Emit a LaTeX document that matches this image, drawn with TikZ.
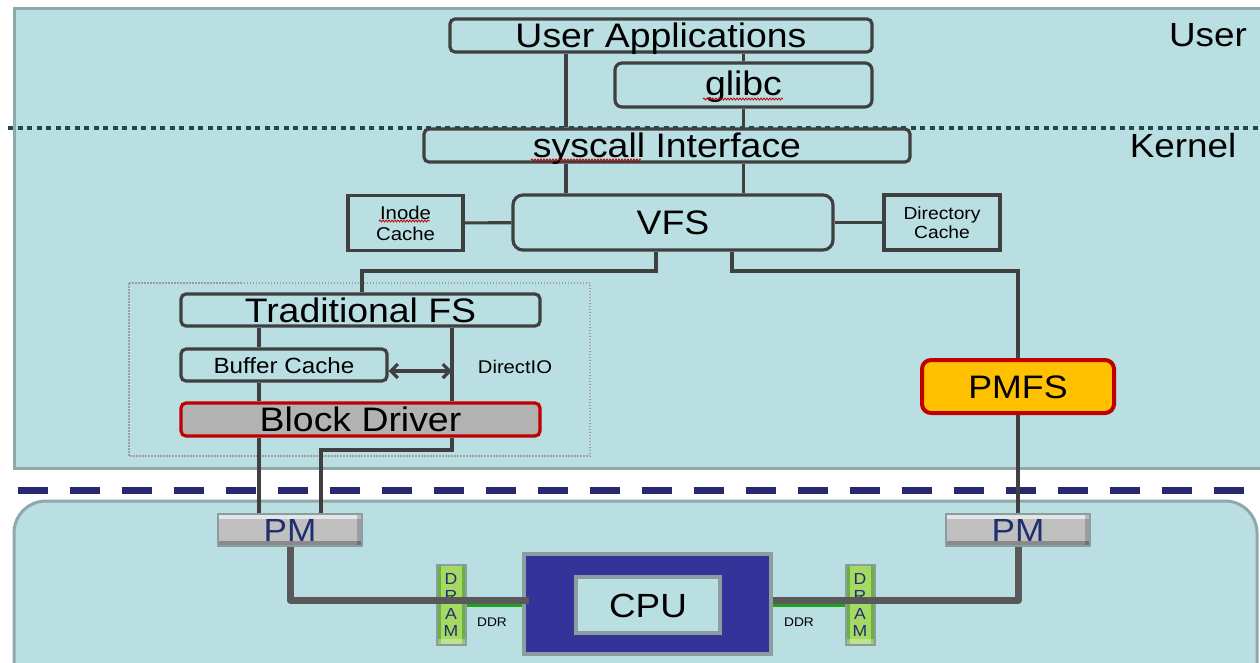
\documentclass[tikz,border=0pt]{standalone}
\usepackage{fontspec}
\setmainfont{Liberation Sans}[FakeStretch=1.1]
\usetikzlibrary{arrows.meta,decorations.pathmorphing}

\definecolor{panel}{RGB}{185,223,227}
\definecolor{panelrim}{RGB}{143,168,170}
\definecolor{boxline}{RGB}{64,64,64}
\definecolor{kerneldots}{RGB}{31,73,77}
\definecolor{hwdash}{RGB}{40,40,112}
\definecolor{alertred}{RGB}{192,0,0}
\definecolor{pmfsgold}{RGB}{255,192,0}
\definecolor{blockgray}{RGB}{178,178,178}
\definecolor{cpublue}{RGB}{51,51,153}
\definecolor{cpurim}{RGB}{138,158,159}
\definecolor{ddrgreen}{RGB}{34,160,34}
\definecolor{dramgreen}{RGB}{166,216,100}
\definecolor{pmfill}{RGB}{192,192,192}
\definecolor{pmtext}{RGB}{31,47,111}
\definecolor{busgray}{RGB}{89,89,89}

\newcommand{\setfs}[1]{\fontsize{#1}{#1}\selectfont}

\begin{document}
\begin{tikzpicture}[x=1pt,y=-1pt,
  box/.style={draw=boxline, line width=3.2pt, fill=panel, rounded corners=5pt,
    inner sep=0pt, font=\setfs{34}, text height=24pt, text depth=0pt},
  sqbox/.style={draw=boxline, line width=3.2pt, fill=panel, inner sep=0pt,
    align=center},
  alertbox/.style={box, draw=alertred},
  conn/.style={draw=boxline, line width=3.2pt},
  bus/.style={draw=busgray, line width=7pt, line join=round},
  ddr/.style={draw=ddrgreen, line width=3pt},
  pmbox/.style={draw=cpurim, line width=2pt, fill=pmfill, minimum width=144pt,
    minimum height=32pt, inner sep=0pt, text=pmtext, font=\setfs{32},
    text height=23pt, text depth=0pt,
    path picture={
      \fill[white, opacity=0.6] (path picture bounding box.north west)
        rectangle ([yshift=-5pt]path picture bounding box.north east);
      \fill[black, opacity=0.28] ([yshift=5pt]path picture bounding box.south west)
        rectangle (path picture bounding box.south east);
      \fill[black, opacity=0.18] ([xshift=-5pt]path picture bounding box.north east)
        rectangle (path picture bounding box.south east);
    }},
  dram/.style={draw=cpurim, line width=2pt, fill=dramgreen, minimum width=29pt,
    minimum height=80pt, inner sep=0pt, align=center, text=pmtext,
    font=\fontsize{16}{17.5}\selectfont,
    path picture={
      \fill[black!60!green, opacity=0.35] (path picture bounding box.north west)
        rectangle ([xshift=4pt]path picture bounding box.south west);
      \fill[black!60!green, opacity=0.35] ([xshift=-4pt]path picture bounding box.north east)
        rectangle (path picture bounding box.south east);
      \fill[white, opacity=0.3] ([yshift=6pt]path picture bounding box.south west)
        rectangle (path picture bounding box.south east);
    }},
  squiggle/.style={draw=alertred, line width=0.8pt, decorate,
    decoration={snake, amplitude=1pt, segment length=3pt}},
]
\useasboundingbox (0,0) rectangle (1260,662);
\clip (0,0) rectangle (1260,662);
\fill[white] (0,0) rectangle (1260,662);

% software and hardware panels
\draw[panelrim, fill=panel, line width=3pt] (14,8) rectangle (1280,468);
\draw[panelrim, fill=panel, line width=3pt, rounded corners=32pt] (14,501) rectangle (1257,720);

% user / kernel boundary and software / hardware boundary
\draw[kerneldots, line width=4pt, dash pattern=on 5pt off 4.5pt] (8,128) -- (1260,128);
\draw[hwdash, line width=7pt, dash pattern=on 30pt off 22pt] (18,490) -- (1260,490);

% traditional file system group
\draw[gray!75, line width=1.2pt, dash pattern=on 1.5pt off 1.5pt] (129,283) rectangle (590,456);

% column and row guides for connectors
\coordinate (colA) at (566,0);
\coordinate (colB) at (743.5,0);
\coordinate (colL) at (656,0);
\coordinate (colR) at (732,0);
\coordinate (colT) at (362,0);
\coordinate (colBC) at (259,0);
\coordinate (colDIO) at (452,0);
\coordinate (colJog) at (321,0);
\coordinate (rowV) at (0,271);
\coordinate (rowJog) at (0,450);
\coordinate (rowBus) at (0,600);
\coordinate (rowDDR) at (0,605);
\coordinate (dioArrow) at (452,371);

% software stack
\node[box, minimum width=422pt, minimum height=33pt] (ua) at (661,35.5) {User Applications};
\node[box, rounded corners=7pt, minimum width=257pt, minimum height=44pt, text depth=4pt] (glibc) at (743.5,85) {glibc};
\node[box, minimum width=486pt, minimum height=33pt] (sys) at (667,145.5) {syscall Interface};
\node[box, rounded corners=10pt, minimum width=320pt, minimum height=55pt] (vfs) at (673,222.5) {VFS};
\node[sqbox, minimum width=115pt, minimum height=55pt, font=\fontsize{18.5}{21}\selectfont] (inode) at (405.5,223) {Inode\\Cache};
\node[sqbox, minimum width=116pt, minimum height=55pt, font=\fontsize{17.5}{19}\selectfont] (dir) at (942,222.5) {Directory\\Cache};
\node[box, minimum width=359pt, minimum height=32pt] (tfs) at (360.5,310) {Traditional FS};
\node[box, minimum width=206pt, minimum height=32pt, font=\setfs{22}, text height=16pt] (buf) at (284,365) {Buffer Cache};
\node[alertbox, fill=blockgray, minimum width=359pt, minimum height=33pt] (blk) at (360.5,419.5) {Block Driver};
\node[alertbox, fill=pmfsgold, line width=4pt, rounded corners=9pt, minimum width=192pt, minimum height=53pt, font=\setfs{32.5}, text height=23pt] (pmfs) at (1018,386.5) {PMFS};

\node[font=\setfs{18.4}] (dio) at (515,367) {DirectIO};
\node[font=\setfs{33.5}] (userlbl) at (1208,35) {User};
\node[font=\setfs{33.5}] (kernlbl) at (1183,146) {Kernel};

% spelling marks under the words
\draw[squiggle] (703,99) -- (783,99);
\draw[squiggle] (531,160) -- (641,160);
\draw[squiggle] (379,221) -- (430,221);

% hardware
\node[pmbox] (pmL) at (290,530) {PM};
\node[pmbox] (pmR) at (1018,530) {PM};
\node[draw=cpurim, fill=cpublue, line width=4pt, minimum width=247pt, minimum height=100pt] (cpu) at (647.5,604) {};
\node[draw=cpurim, fill=panel, line width=4pt, minimum width=144pt, minimum height=56pt, font=\setfs{33.5}, text height=24pt, text depth=0pt] (core) at (648,605) {CPU};
\node[dram] (dramL) at (451,605) {D\\R\\A\\M};
\node[dram] (dramR) at (860,605) {D\\R\\A\\M};
\node[font=\setfs{12.5}] (ddrL) at (492,622) {DDR};
\node[font=\setfs{12.5}] (ddrR) at (799,622) {DDR};

% software connectors
\draw[conn] (ua.south -| colA) -- (sys.north -| colA);
\draw[conn] (ua.south -| colB) -- (glibc.north);
\draw[conn] (glibc.south) -- (sys.north -| colB);
\draw[conn] (sys.south -| colA) -- (vfs.north -| colA);
\draw[conn] (sys.south -| colB) -- (vfs.north -| colB);
\draw[conn] (inode) -- (vfs);
\draw[conn] (vfs) -- (dir);
\draw[conn] (vfs.south -| colL) |- (rowV -| colT) -- (tfs.north -| colT);
\draw[conn] (vfs.south -| colR) |- (rowV -| pmfs.north) -- (pmfs.north);
\draw[conn] (tfs.south -| colBC) -- (buf.north -| colBC);
\draw[conn] (buf.south -| colBC) -- (blk.north -| colBC);
\draw[conn] (tfs.south -| colDIO) -- (blk.north -| colDIO);
\draw[conn, {Straight Barb[length=7pt,width=14pt]}-{Straight Barb[length=7pt,width=14pt]}]
  (buf.east |- dioArrow) -- (dioArrow);
\draw[conn] (blk.south -| colBC) -- (pmL.north -| colBC);
\draw[conn] (blk.south -| colDIO) |- (rowJog -| colJog) -- (pmL.north -| colJog);
\draw[conn] (pmfs.south) -- (pmR.north);

% memory buses
\draw[ddr] (dramL.east |- rowDDR) -- (cpu.west |- rowDDR);
\draw[ddr] (cpu.east |- rowDDR) -- (dramR.west |- rowDDR);
\draw[bus, shorten >=-7pt] (pmL.south) |- (cpu.west |- rowBus);
\draw[bus] (cpu.east |- rowBus) -| (pmR.south);
\end{tikzpicture}
\end{document}
